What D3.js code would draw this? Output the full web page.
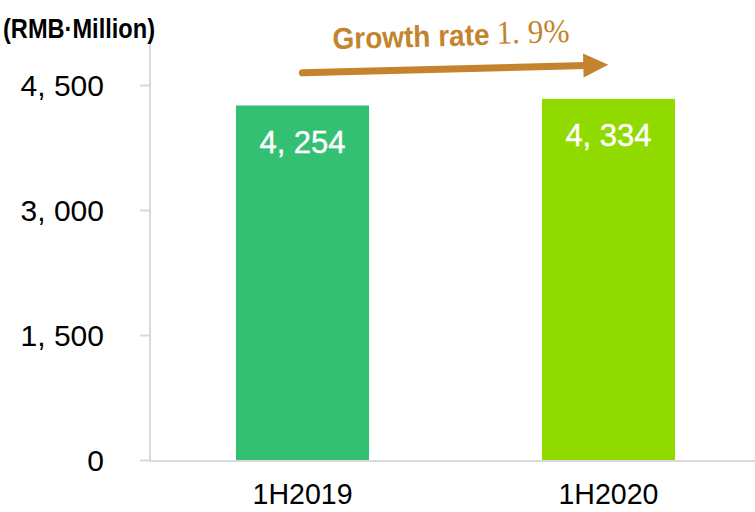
<!DOCTYPE html>
<html>
<head>
<meta charset="utf-8">
<script src="https://cdn.jsdelivr.net/npm/d3@7"></script>
<style>
  body { margin: 0; background: #fff; }
  svg { display: block; }
</style>
</head>
<body>
<svg id="chart" width="755" height="512"></svg>
<script>
// data
const categories = ["1H2019", "1H2020"];
const values = [4254, 4334];
const barLabels = ["4, 254", "4, 334"];
const yTicks = [0, 1500, 3000, 4500];
const yTickLabels = ["0", "1, 500", "3, 000", "4, 500"];
const barColors = ["#33C073", "#90DA00"];

const svg = d3.select("#chart");

const y = d3.scaleLinear().domain([0, 4500]).range([460, 85]);
const x = d3.scaleBand()
    .domain(categories)
    .range([150, 761])
    .paddingInner(0.565)
    .paddingOuter(0.281);

// axes
const yAxis = svg.append("g")
    .attr("transform", "translate(150,0)")
    .call(d3.axisLeft(y).tickValues(yTicks).tickSize(10).tickPadding(36)
        .tickFormat((d, i) => yTickLabels[i]));
yAxis.select(".domain").attr("d", "M0,42V461");
yAxis.selectAll("line, .domain").attr("stroke", "#d9d9d9").attr("stroke-width", 2);
yAxis.selectAll("text")
    .attr("fill", "#000")
    .attr("dy", "0.36em")
    .style("font-family", "Liberation Sans, Arial, sans-serif")
    .style("font-size", "30px");

const xAxis = svg.append("g")
    .attr("transform", "translate(0,461)")
    .call(d3.axisBottom(x).tickSize(0).tickPadding(22));
xAxis.select(".domain").attr("d", "M150,0H755");
xAxis.selectAll(".domain").attr("stroke", "#d9d9d9").attr("stroke-width", 2);
xAxis.selectAll("text")
    .attr("fill", "#000")
    .attr("textLength", 100)
    .attr("lengthAdjust", "spacingAndGlyphs")
    .style("font-family", "Liberation Sans, Arial, sans-serif")
    .style("font-size", "30px");

// bars
svg.selectAll(".bar")
    .data(values)
    .enter()
    .append("rect")
    .attr("class", "bar")
    .attr("x", (d, i) => x(categories[i]))
    .attr("y", d => y(d))
    .attr("width", x.bandwidth())
    .attr("height", d => y(0) - y(d))
    .attr("fill", (d, i) => barColors[i]);

svg.selectAll(".val")
    .data(values)
    .enter()
    .append("text")
    .attr("class", "val")
    .attr("x", (d, i) => x(categories[i]) + x.bandwidth() / 2)
    .attr("y", d => y(d) + 47)
    .attr("text-anchor", "middle")
    .attr("fill", "#fff")
    .style("font-family", "Liberation Sans, Arial, sans-serif")
    .style("font-size", "31px")
    .style("stroke", "#fff")
    .style("stroke-width", "0.4px")
    .text((d, i) => barLabels[i]);

// unit label
svg.append("text")
    .attr("x", 3)
    .attr("y", 38)
    .attr("textLength", 152)
    .attr("lengthAdjust", "spacingAndGlyphs")
    .style("font-family", "Liberation Sans, Arial, sans-serif")
    .style("font-weight", "bold")
    .style("font-size", "28px")
    .text("(RMB·Million)");

// growth annotation
const gold = "#C4832D";
const ann = svg.append("g").attr("transform", "rotate(-1.5, 450, 55)");
ann.append("text")
    .attr("x", 333)
    .attr("y", 46)
    .attr("fill", gold)
    .attr("textLength", 157)
    .attr("lengthAdjust", "spacingAndGlyphs")
    .style("font-family", "Liberation Sans, Arial, sans-serif")
    .style("font-weight", "bold")
    .style("font-size", "30px")
    .text("Growth rate");
ann.append("text")
    .attr("x", 497)
    .attr("y", 45)
    .attr("fill", gold)
    .attr("textLength", 73)
    .attr("lengthAdjust", "spacingAndGlyphs")
    .style("font-family", "Liberation Serif, serif")
    .style("font-size", "33px")
    .text("1. 9%");

ann.append("line")
    .attr("x1", 302).attr("y1", 69)
    .attr("x2", 586).attr("y2", 69)
    .attr("stroke", gold)
    .attr("stroke-width", 7)
    .attr("stroke-linecap", "round");
ann.append("path")
    .attr("d", "M583,57L608,69L583,81Z")
    .attr("fill", gold);
</script>
</body>
</html>
